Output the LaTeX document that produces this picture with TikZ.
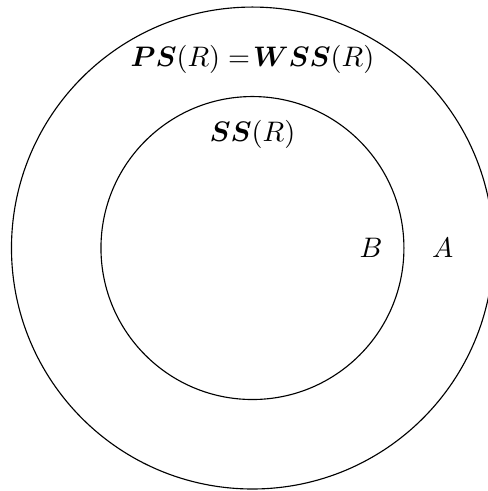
\documentclass[tikz,border=0pt]{standalone}
\usepackage{amsfonts, amstext, amsmath, amssymb}
\usepackage{bm}
\usepackage{tikz}
\usetikzlibrary{positioning}

\begin{document}
\begin{tikzpicture}
				\useasboundingbox (-3.143,-3.025) rectangle (2.932,3.088);
				\draw (0,0) circle (3.0);
				\draw (0,0) circle (1.886);
				\node (ps) at (0,2.35) {$\bm{PS}(R) =\!\bm{WSS}(R)$};
				\node (ss) at (0,1.42) {$\bm{SS}(R)$};
				\node (b) at (1.475,0) {$B$};
				\node (a) at (2.37,0) {$A$};
			\end{tikzpicture}
\end{document}
